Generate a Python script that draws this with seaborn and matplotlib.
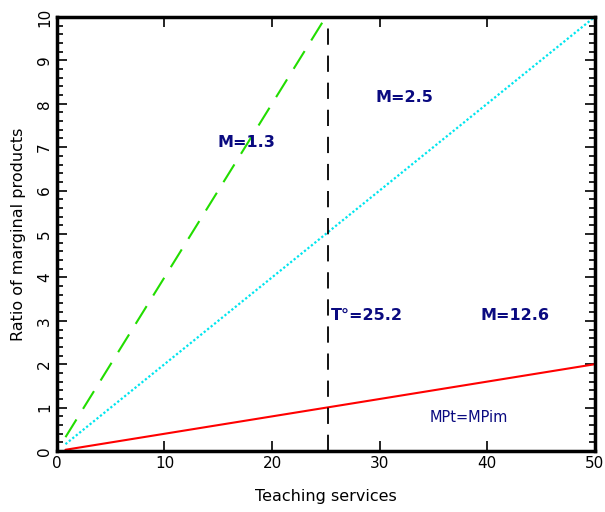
# ratio of marginal products vs teaching services

import matplotlib
matplotlib.use("Agg")
import matplotlib.pyplot as plt
from matplotlib.ticker import MultipleLocator
import pandas as pd
import seaborn as sns

sns.set_theme(style="ticks")
plt.rcParams["font.family"] = ["DejaVu Sans"]

# podaci ocitani sa slike
mp_x = [0.8, 50]
mp_y = [0.03, 2.0]
m25_x = [0.8, 50]
m25_y = [0.16, 10.0]
m13_x = [0.8, 25]
m13_y = [0.32, 10.0]
t_star = 25.2

labels = ["M=1.3", "M=2.5", "T°=25.2", "M=12.6"]
label_x = [17.6, 32.3, 25.5, 42.6]
label_y = [7.1, 8.15, 3.12, 3.12]
label_ha = ["center", "center", "left", "center"]

fig = plt.figure(figsize=(6.05, 5.12), dpi=100)
ax = fig.add_axes([0.094, 0.119, 0.889, 0.848])

df_red = pd.DataFrame({"x": mp_x, "y": mp_y})
df_cyan = pd.DataFrame({"x": m25_x, "y": m25_y})
df_green = pd.DataFrame({"x": m13_x, "y": m13_y})

sns.lineplot(data=df_red, x="x", y="y", ax=ax, color="red", lw=1.5)
sns.lineplot(data=df_cyan, x="x", y="y", ax=ax, color="#00e5ee", lw=1.6,
             linestyle=(0, (1, 1)))
sns.lineplot(data=df_green, x="x", y="y", ax=ax, color="#22dd00", lw=1.5,
             linestyle=(0, (10, 6)))
ax.axvline(t_star, color="black", lw=1.3, linestyle=(0, (9, 6)))

for txt, x, y, ha in zip(labels, label_x, label_y, label_ha):
    ax.text(x, y, txt, color="#0a0a80", fontsize=11.5, fontweight="heavy",
            ha=ha, va="center")
ax.text(38.3, 0.78, "MPt=MPim", color="#0a0a80", fontsize=10.5,
        ha="center", va="center")

ax.set_xlim(0, 50)
ax.set_ylim(0, 10)
ax.xaxis.set_major_locator(MultipleLocator(10))
ax.yaxis.set_major_locator(MultipleLocator(1))
ax.yaxis.set_minor_locator(MultipleLocator(0.2))
ax.tick_params(which="both", direction="in", top=True, right=True,
               labelsize=11, width=1.2, colors="black")
ax.tick_params(which="major", length=7)
ax.tick_params(which="minor", length=4)
for lab in ax.get_yticklabels():
    lab.set_rotation(90)
    lab.set_va("center")
for s in ax.spines.values():
    s.set_linewidth(2.5)
    s.set_color("black")

ax.set_xlabel("Teaching services", fontsize=11.5, labelpad=13, color="black")
ax.set_ylabel("Ratio of marginal products", fontsize=11.5, labelpad=8,
              color="black")

plt.savefig("out.png", dpi=100)
plt.close()
